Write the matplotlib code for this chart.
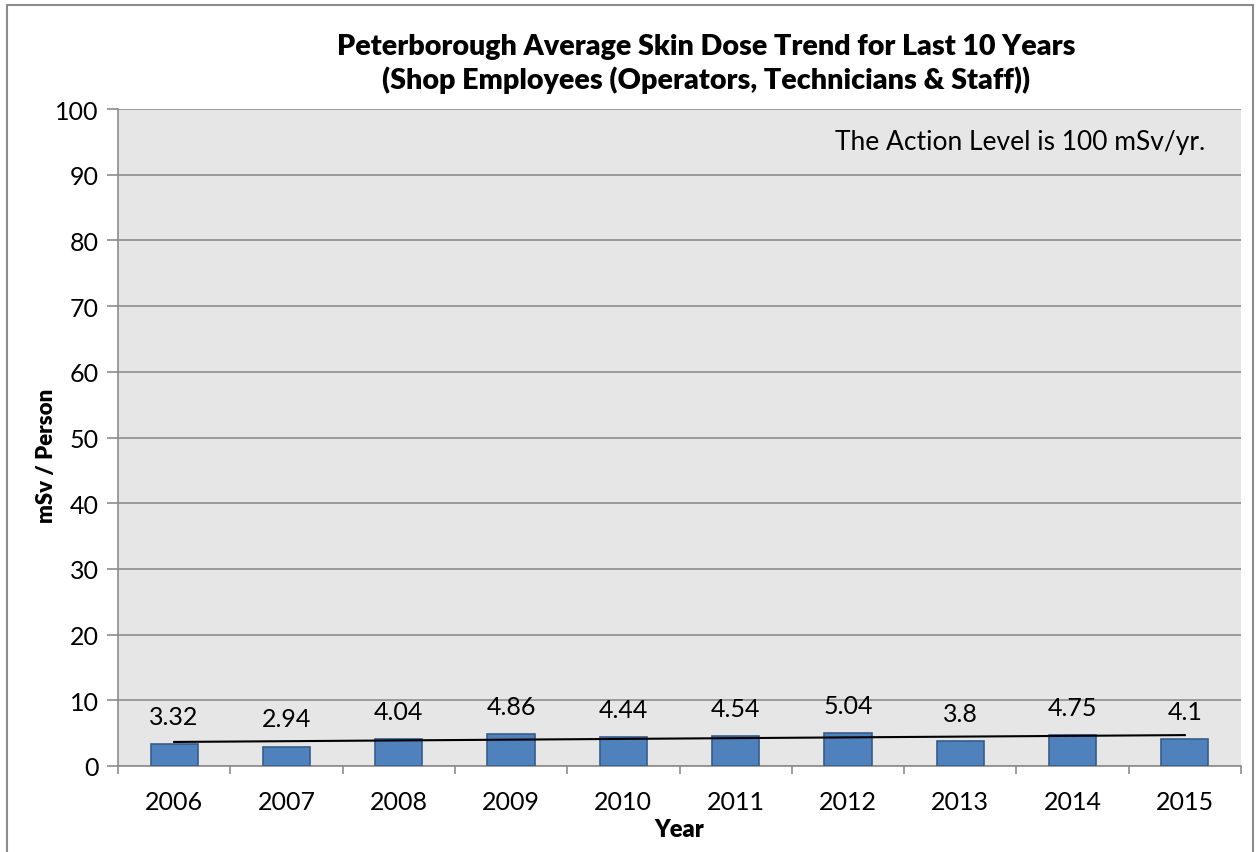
import numpy as np
from matplotlib import pyplot as plt
from matplotlib.patches import Rectangle

years = ['2006', '2007', '2008', '2009', '2010', '2011', '2012', '2013', '2014', '2015']
skin_dose = [3.32, 2.94, 4.04, 4.86, 4.44, 4.54, 5.04, 3.8, 4.75, 4.1]
value_labels = ['3.32', '2.94', '4.04', '4.86', '4.44', '4.54', '5.04', '3.8', '4.75', '4.1']
y_ticks = [0, 10, 20, 30, 40, 50, 60, 70, 80, 90, 100]

plt.rcParams['font.family'] = ['Lato', 'DejaVu Sans']

fig = plt.figure(figsize=(12.56, 8.53), dpi=100)
ax = fig.add_axes([118 / 1256, 86 / 853, 1123 / 1256, 657 / 853])
ax.set_facecolor('#e6e6e6')

# outer chart frame, bottom edge runs off the image
fig.patches.append(Rectangle((7 / 1256, -0.05), 1246 / 1256, 1.05 - 6 / 853,
                             transform=fig.transFigure, fill=False,
                             edgecolor='#8c8c8c', linewidth=1.5))

x = np.arange(len(years))
ax.bar(x, skin_dose, width=0.42, color='#4f81bd', edgecolor='#385d8a',
       linewidth=1.2, zorder=3)

# linear trendline through the yearly values
slope, intercept = np.polyfit(x, skin_dose, 1)
ax.plot(x, slope * x + intercept, color='black', linewidth=1.5, zorder=4)

for xi, val, lab in zip(x, skin_dose, value_labels):
    ax.annotate(lab, (xi, val), xytext=(0, 20), textcoords='offset points',
                ha='center', va='center', fontsize=18, zorder=5)

ax.set_xlim(-0.5, len(years) - 0.5)
ax.set_ylim(0, 100)
ax.set_yticks(y_ticks)
ax.set_yticklabels([str(t) for t in y_ticks], fontsize=18)
ax.yaxis.grid(True, color='#8c8c8c', linewidth=1.2, zorder=0)
ax.set_axisbelow(True)

ax.set_xticks(x)
ax.set_xticklabels(years, fontsize=18)
ax.set_xticks(np.arange(-0.5, len(years)), minor=True)
ax.tick_params(axis='x', which='major', length=0, pad=17)
ax.tick_params(axis='x', which='minor', length=6, color='#8c8c8c', width=1.2)
ax.tick_params(axis='y', length=8, color='#8c8c8c', width=1.2, pad=6)

for side in ['top', 'right']:
    ax.spines[side].set_visible(False)
for side in ['left', 'bottom']:
    ax.spines[side].set_color('#8c8c8c')
    ax.spines[side].set_linewidth(1.2)

fig.text(47 / 1256, 1 - 456 / 853, 'mSv / Person', rotation=90,
         ha='center', va='center', fontsize=16, fontweight='heavy')
fig.text(0.5 * (118 + 1241) / 1256, 1 - 830 / 853, 'Year',
         ha='center', va='center', fontsize=17, fontweight='heavy')

ax.text(0.968, 0.951, 'The Action Level is 100 mSv/yr.', transform=ax.transAxes,
        ha='right', va='center', fontsize=19)

fig.text(706 / 1256, 1 - 64 / 853,
         'Peterborough Average Skin Dose Trend for Last 10 Years\n'
         '(Shop Employees (Operators, Technicians & Staff))',
         ha='center', va='center', fontsize=20.6, fontweight='heavy',
         linespacing=1.3)

fig.savefig('out.png', dpi=100)
